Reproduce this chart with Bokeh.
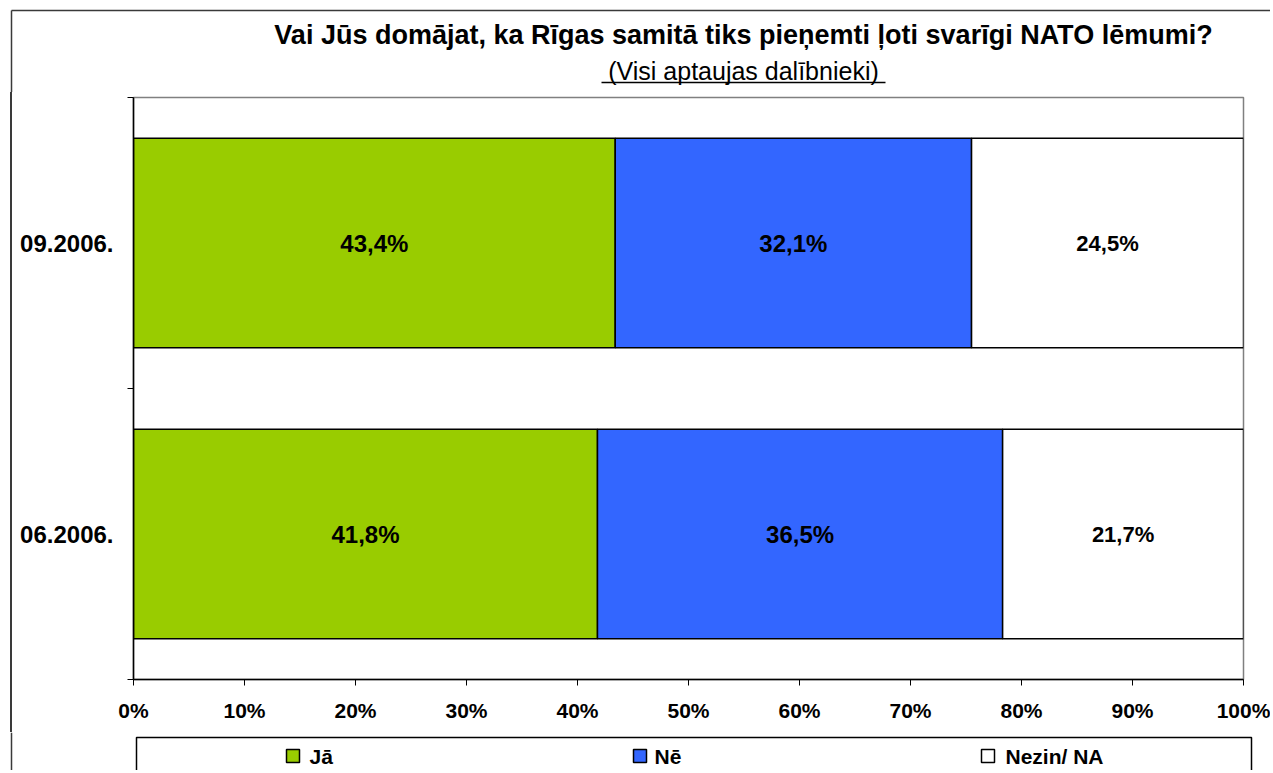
from bokeh.plotting import figure
from bokeh.layouts import column, row
from bokeh.models import ColumnDataSource, Range1d, FixedTicker, Div
from bokeh.core.properties import value
from bokeh.embed import file_html
from bokeh.resources import INLINE

# ---------------- data ----------------
categories = ["06.2006.", "09.2006."]          # bottom -> top
series = ["Jā", "Nē", "Nezin/ NA"]
ja = [41.8, 43.4]
ne = [36.5, 32.1]
nezin = [21.7, 24.5]
colors = ["#99CC00", "#3366FF", "#FFFFFF"]
x_ticks = [0, 10, 20, 30, 40, 50, 60, 70, 80, 90, 100]
x_tick_labels = ["0%", "10%", "20%", "30%", "40%", "50%", "60%", "70%", "80%", "90%", "100%"]
title_text = "Vai Jūs domājat, ka Rīgas samitā tiks pieņemti ļoti svarīgi NATO lēmumi?"
subtitle_text = "(Visi aptaujas dalībnieki)"

FONT = "Liberation Sans"
FRAME_COLOR = "#3a3a3a"

# ---------------- layout geometry (px) ----------------
W_TOTAL = 1270
TITLE_H = 92
MAIN_H = 640
LEG_H = 38
SIDE_W = 12
MAIN_W = W_TOTAL - SIDE_W


def blank(width, height):
    f = figure(width=width, height=height, output_backend="svg", toolbar_location=None,
               x_range=Range1d(0, width), y_range=Range1d(height, 0),
               x_axis_type=None, y_axis_type=None, min_border=0, title=None)
    f.outline_line_color = None
    f.background_fill_color = "white"
    f.border_fill_color = "white"
    return f


# ---------------- title area ----------------
tf = blank(W_TOTAL, TITLE_H)
tf.text(x=[743], y=[34.5], text=[title_text], text_align="center",
        text_baseline="middle", text_font=value(FONT), text_font_style="bold",
        text_font_size="27px", text_color="black")
tf.text(x=[743], y=[70.5], text=[subtitle_text], text_align="center",
        text_baseline="middle", text_font=value(FONT), text_font_style="normal",
        text_font_size="25px", text_color="black")
tf.segment(x0=[601], y0=[82], x1=[885], y1=[82], line_color="black", line_width=1.5)
tf.segment(x0=[11, 11], y0=[10, 10], x1=[W_TOTAL, 11], y1=[10, TITLE_H],
           line_color=FRAME_COLOR, line_width=1.5)

# ---------------- left strip (outer frame line) ----------------
strip_html = (f'<div style="position:relative;width:{SIDE_W}px;height:{MAIN_H}px;">'
              f'<div style="position:absolute;left:10px;top:0px;width:1.5px;'
              f'height:{MAIN_H}px;background:{FRAME_COLOR};"></div></div>')
sf = Div(text=strip_html, width=SIDE_W, height=MAIN_H, margin=0)

# ---------------- main chart ----------------
ypos = [i + 0.5 for i in range(len(categories))]
data = dict(y=ypos, cat=categories)
data[series[0]] = ja
data[series[1]] = ne
data[series[2]] = nezin
source = ColumnDataSource(data)

p = figure(width=MAIN_W, height=MAIN_H, output_backend="svg", toolbar_location=None,
           x_range=Range1d(0, 100), y_range=Range1d(0, len(categories)),
           min_border_left=133 - SIDE_W, min_border_right=MAIN_W - (1243 - SIDE_W),
           min_border_top=5, min_border_bottom=MAIN_H - (679 - TITLE_H), title=None)
p.background_fill_color = "white"
p.border_fill_color = "white"
p.outline_line_color = "#808080"
p.outline_line_width = 1.5
p.grid.visible = False

p.hbar_stack(series, y="y", height=0.72, color=colors, source=source,
             line_color="black", line_width=1.5)

# value labels
lefts = [0.0] * len(categories)
lx, ly, lt, ls = [], [], [], []
for si, vals in enumerate([ja, ne, nezin]):
    for ci, v in enumerate(vals):
        lx.append(lefts[ci] + v / 2)
        ly.append(ypos[ci])
        lt.append(f"{v:.1f}".replace(".", ",") + "%")
        ls.append("24px" if si < 2 else "22px")
        lefts[ci] += v
lsrc = ColumnDataSource(dict(x=lx, y=ly, t=lt, s=ls))
p.text(x="x", y="y", text="t", source=lsrc, text_align="center",
       text_baseline="middle", text_font=value(FONT), text_font_style="bold",
       text_font_size="s", text_color="black")

# x axis
xa = p.xaxis[0]
xa.ticker = FixedTicker(ticks=x_ticks)
xa.major_label_overrides = {t: l for t, l in zip(x_ticks, x_tick_labels)}
xa.axis_line_color = "black"
xa.axis_line_width = 1.5
xa.major_tick_line_color = "black"
xa.major_tick_out = 6
xa.major_tick_in = 0
xa.minor_tick_line_color = None
xa.major_label_text_font = FONT
xa.major_label_text_font_style = "bold"
xa.major_label_text_font_size = "21px"
xa.major_label_text_color = "black"
xa.major_label_standoff = 13

# y axis: category labels at centres, tick marks at category boundaries
ya = p.yaxis[0]
ya.ticker = FixedTicker(ticks=ypos, minor_ticks=[float(i) for i in range(len(categories) + 1)])
ya.major_label_overrides = {y: c for y, c in zip(ypos, categories)}
ya.axis_line_color = "black"
ya.axis_line_width = 1.5
ya.major_tick_line_color = None
ya.major_tick_out = 0
ya.major_tick_in = 0
ya.minor_tick_line_color = "black"
ya.minor_tick_out = 6
ya.minor_tick_in = 0
ya.major_label_text_font = FONT
ya.major_label_text_font_style = "bold"
ya.major_label_text_font_size = "24px"
ya.major_label_text_color = "black"
ya.major_label_standoff = 14

# ---------------- legend area ----------------
lf = blank(W_TOTAL, LEG_H)
top0 = TITLE_H + MAIN_H
lf.segment(x0=[11], y0=[0], x1=[11], y1=[LEG_H], line_color=FRAME_COLOR, line_width=1.5)
lf.quad(left=[136], right=[1251], top=[737 - top0], bottom=[LEG_H + 20],
        fill_color=None, line_color="black", line_width=1.5)
glyph_left = [286, 633, 981]
text_left = [309, 654, 1005]
lf.quad(left=glyph_left, right=[g + 13 for g in glyph_left],
        top=[749 - top0] * 3, bottom=[762 - top0] * 3,
        fill_color=colors, line_color="black", line_width=1.5)
lf.text(x=text_left, y=[755.5 - top0] * 3, text=series, text_align="left",
        text_baseline="middle", text_font=value(FONT), text_font_style="bold",
        text_font_size="21px", text_color="black")

layout = column(tf, row(sf, p, spacing=0), lf, spacing=0)
open("out.html", "w").write(file_html(layout, INLINE))
